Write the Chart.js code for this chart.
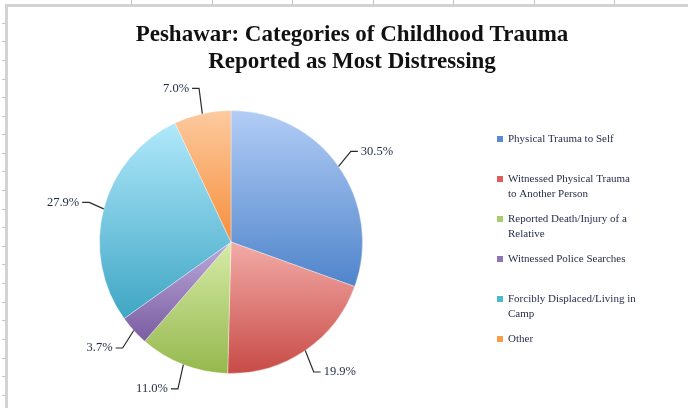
<!DOCTYPE html>
<html>
<head>
<meta charset="utf-8">
<script src="https://cdn.jsdelivr.net/npm/chart.js@4/dist/chart.umd.min.js"></script>
<style>
  html, body { margin: 0; padding: 0; background: #fff; overflow: hidden; }
  body { width: 688px; height: 408px; position: relative; }
  .bar { position: absolute; background: #d3d3d3; }
  .tick { position: absolute; background: #c4c4c4; }
  #wrap { position: absolute; left: 8px; top: 8px; width: 680px; height: 400px; }
</style>
</head>
<body>
<div class="bar" style="left:5px;top:4px;width:683px;height:3px"></div>
<div class="bar" style="left:5px;top:4px;width:3px;height:404px"></div>
<div id="wrap"><canvas id="chart"></canvas></div>
<script>
const titleLines = ['Peshawar: Categories of Childhood Trauma', 'Reported as Most Distressing'];

// legend entries, already broken into lines like the original
const categories = [
  ['Physical Trauma to Self'],
  ['Witnessed Physical Trauma', 'to Another Person'],
  ['Reported Death/Injury of a', 'Relative'],
  ['Witnessed Police Searches'],
  ['Forcibly Displaced/Living in', 'Camp'],
  ['Other'],
];
const percents = [30.5, 19.9, 11.0, 3.7, 27.9, 7.0];

const lightColors = ['#b2cdf6', '#f3aba7', '#d7eba8', '#bcaadb', '#b0e8fb', '#fdca9f'];
const darkColors = ['#4f84cb', '#c84b47', '#95b84d', '#7a5ca1', '#3fa6c4', '#f68f3c'];
const keyColors = ['#5a8ad2', '#dc5e5a', '#a9cc6c', '#8e74b6', '#4cb9d9', '#f79d4f'];

const TEXT = '#1f2a44';
const SERIF = '"Liberation Serif", "Times New Roman", serif';

// spreadsheet ruler marks round the chart object
for (let x = 131; x < 688; x += 80.5) {
  const d = document.createElement('div');
  d.className = 'tick';
  d.style.cssText = `left:${Math.round(x)}px;top:0;width:1px;height:5px`;
  document.body.appendChild(d);
}
for (let y = 22.7; y < 408; y += 18.6) {
  const d = document.createElement('div');
  d.className = 'tick';
  d.style.cssText = `left:2px;top:${Math.round(y)}px;width:4px;height:1px`;
  document.body.appendChild(d);
}

/** Vertical light-to-dark gradient over each slice's own height. */
const sliceGradient = {
  id: 'sliceGradient',
  beforeDatasetsDraw(chart) {
    const ctx = chart.ctx;
    chart.getDatasetMeta(0).data.forEach((arc, i) => {
      const { x, y, startAngle, endAngle, outerRadius } =
        arc.getProps(['x', 'y', 'startAngle', 'endAngle', 'outerRadius'], true);
      let top = y, bottom = y;
      const pts = [startAngle, endAngle];
      [-Math.PI / 2, Math.PI / 2, 3 * Math.PI / 2].forEach(a => {
        if (a >= startAngle - 1e-6 && a <= endAngle + 1e-6) pts.push(a);
      });
      pts.forEach(a => {
        const py = y + outerRadius * Math.sin(a);
        top = Math.min(top, py);
        bottom = Math.max(bottom, py);
      });
      const g = ctx.createLinearGradient(0, top, 0, bottom);
      g.addColorStop(0, lightColors[i]);
      g.addColorStop(1, darkColors[i]);
      arc.options.backgroundColor = g;
    });
  },
};

/** Percent labels with elbow leader lines outside the pie. */
const leaderLabels = {
  id: 'leaderLabels',
  afterDatasetsDraw(chart) {
    const ctx = chart.ctx;
    const values = chart.data.datasets[0].data;
    ctx.save();
    ctx.strokeStyle = '#2a2a2a';
    ctx.lineWidth = 1.2;
    ctx.fillStyle = TEXT;
    ctx.font = '12.5px ' + SERIF;
    ctx.textBaseline = 'middle';
    chart.getDatasetMeta(0).data.forEach((arc, i) => {
      const { x, y, startAngle, endAngle, outerRadius } =
        arc.getProps(['x', 'y', 'startAngle', 'endAngle', 'outerRadius'], true);
      const mid = (startAngle + endAngle) / 2;
      const cos = Math.cos(mid), sin = Math.sin(mid);
      const ex = x + outerRadius * cos, ey = y + outerRadius * sin;
      const bx = ex + 15 * cos, by = ey + 26 * sin;
      const side = cos >= 0 ? 1 : -1;
      const hx = bx + 7 * side;
      ctx.beginPath();
      ctx.moveTo(ex, ey);
      ctx.lineTo(bx, by);
      ctx.lineTo(hx, by);
      ctx.stroke();
      ctx.textAlign = side > 0 ? 'left' : 'right';
      ctx.fillText(values[i].toFixed(1) + '%', hx + 3 * side, by);
    });
    ctx.restore();
  },
};

/** Right-hand legend as a layout box, so the pie sits left of the title centre. */
const sideLegend = {
  id: 'sideLegend',
  beforeInit(chart) {
    const box = {
      position: 'right', weight: 0, fullSize: false, options: {},
      left: 0, top: 0, right: 0, bottom: 0, width: 0, height: 0,
      isHorizontal() { return false; },
      update(maxWidth, maxHeight) { this.width = 242; this.height = maxHeight; },
      draw() {
        const ctx = chart.ctx;
        const pitch = 40, lh = 15;
        const x0 = this.left + 134;
        const y0 = (this.top + this.bottom) / 2 - (categories.length - 1) * pitch / 2 - 3;
        ctx.save();
        ctx.font = '11px ' + SERIF;
        ctx.textBaseline = 'middle';
        ctx.textAlign = 'left';
        categories.forEach((lines, i) => {
          const cy = y0 + i * pitch;
          ctx.fillStyle = keyColors[i];
          ctx.fillRect(x0, cy - 3, 6, 6);
          ctx.fillStyle = TEXT;
          lines.forEach((t, k) => ctx.fillText(t, x0 + 11, cy + k * lh));
        });
        ctx.restore();
      },
    };
    Chart.layouts.addBox(chart, box);
  },
};

new Chart(document.getElementById('chart'), {
  type: 'pie',
  data: {
    labels: categories,
    datasets: [{
      data: percents,
      backgroundColor: keyColors,
      borderColor: 'rgba(255,255,255,0.35)',
      borderWidth: 1,
    }],
  },
  options: {
    responsive: true, maintainAspectRatio: false, animation: false, events: [],
    layout: { padding: { left: 91, right: 83, top: 0, bottom: 34 } },
    plugins: {
      legend: { display: false },
      tooltip: { enabled: false },
      title: {
        display: true, text: titleLines, color: '#111',
        font: { family: SERIF, size: 23, weight: 'bold', lineHeight: 27 / 23 },
        padding: { top: 13.5, bottom: 34.5 },
      },
    },
  },
  plugins: [sliceGradient, leaderLabels, sideLegend],
});
</script>
</body>
</html>
